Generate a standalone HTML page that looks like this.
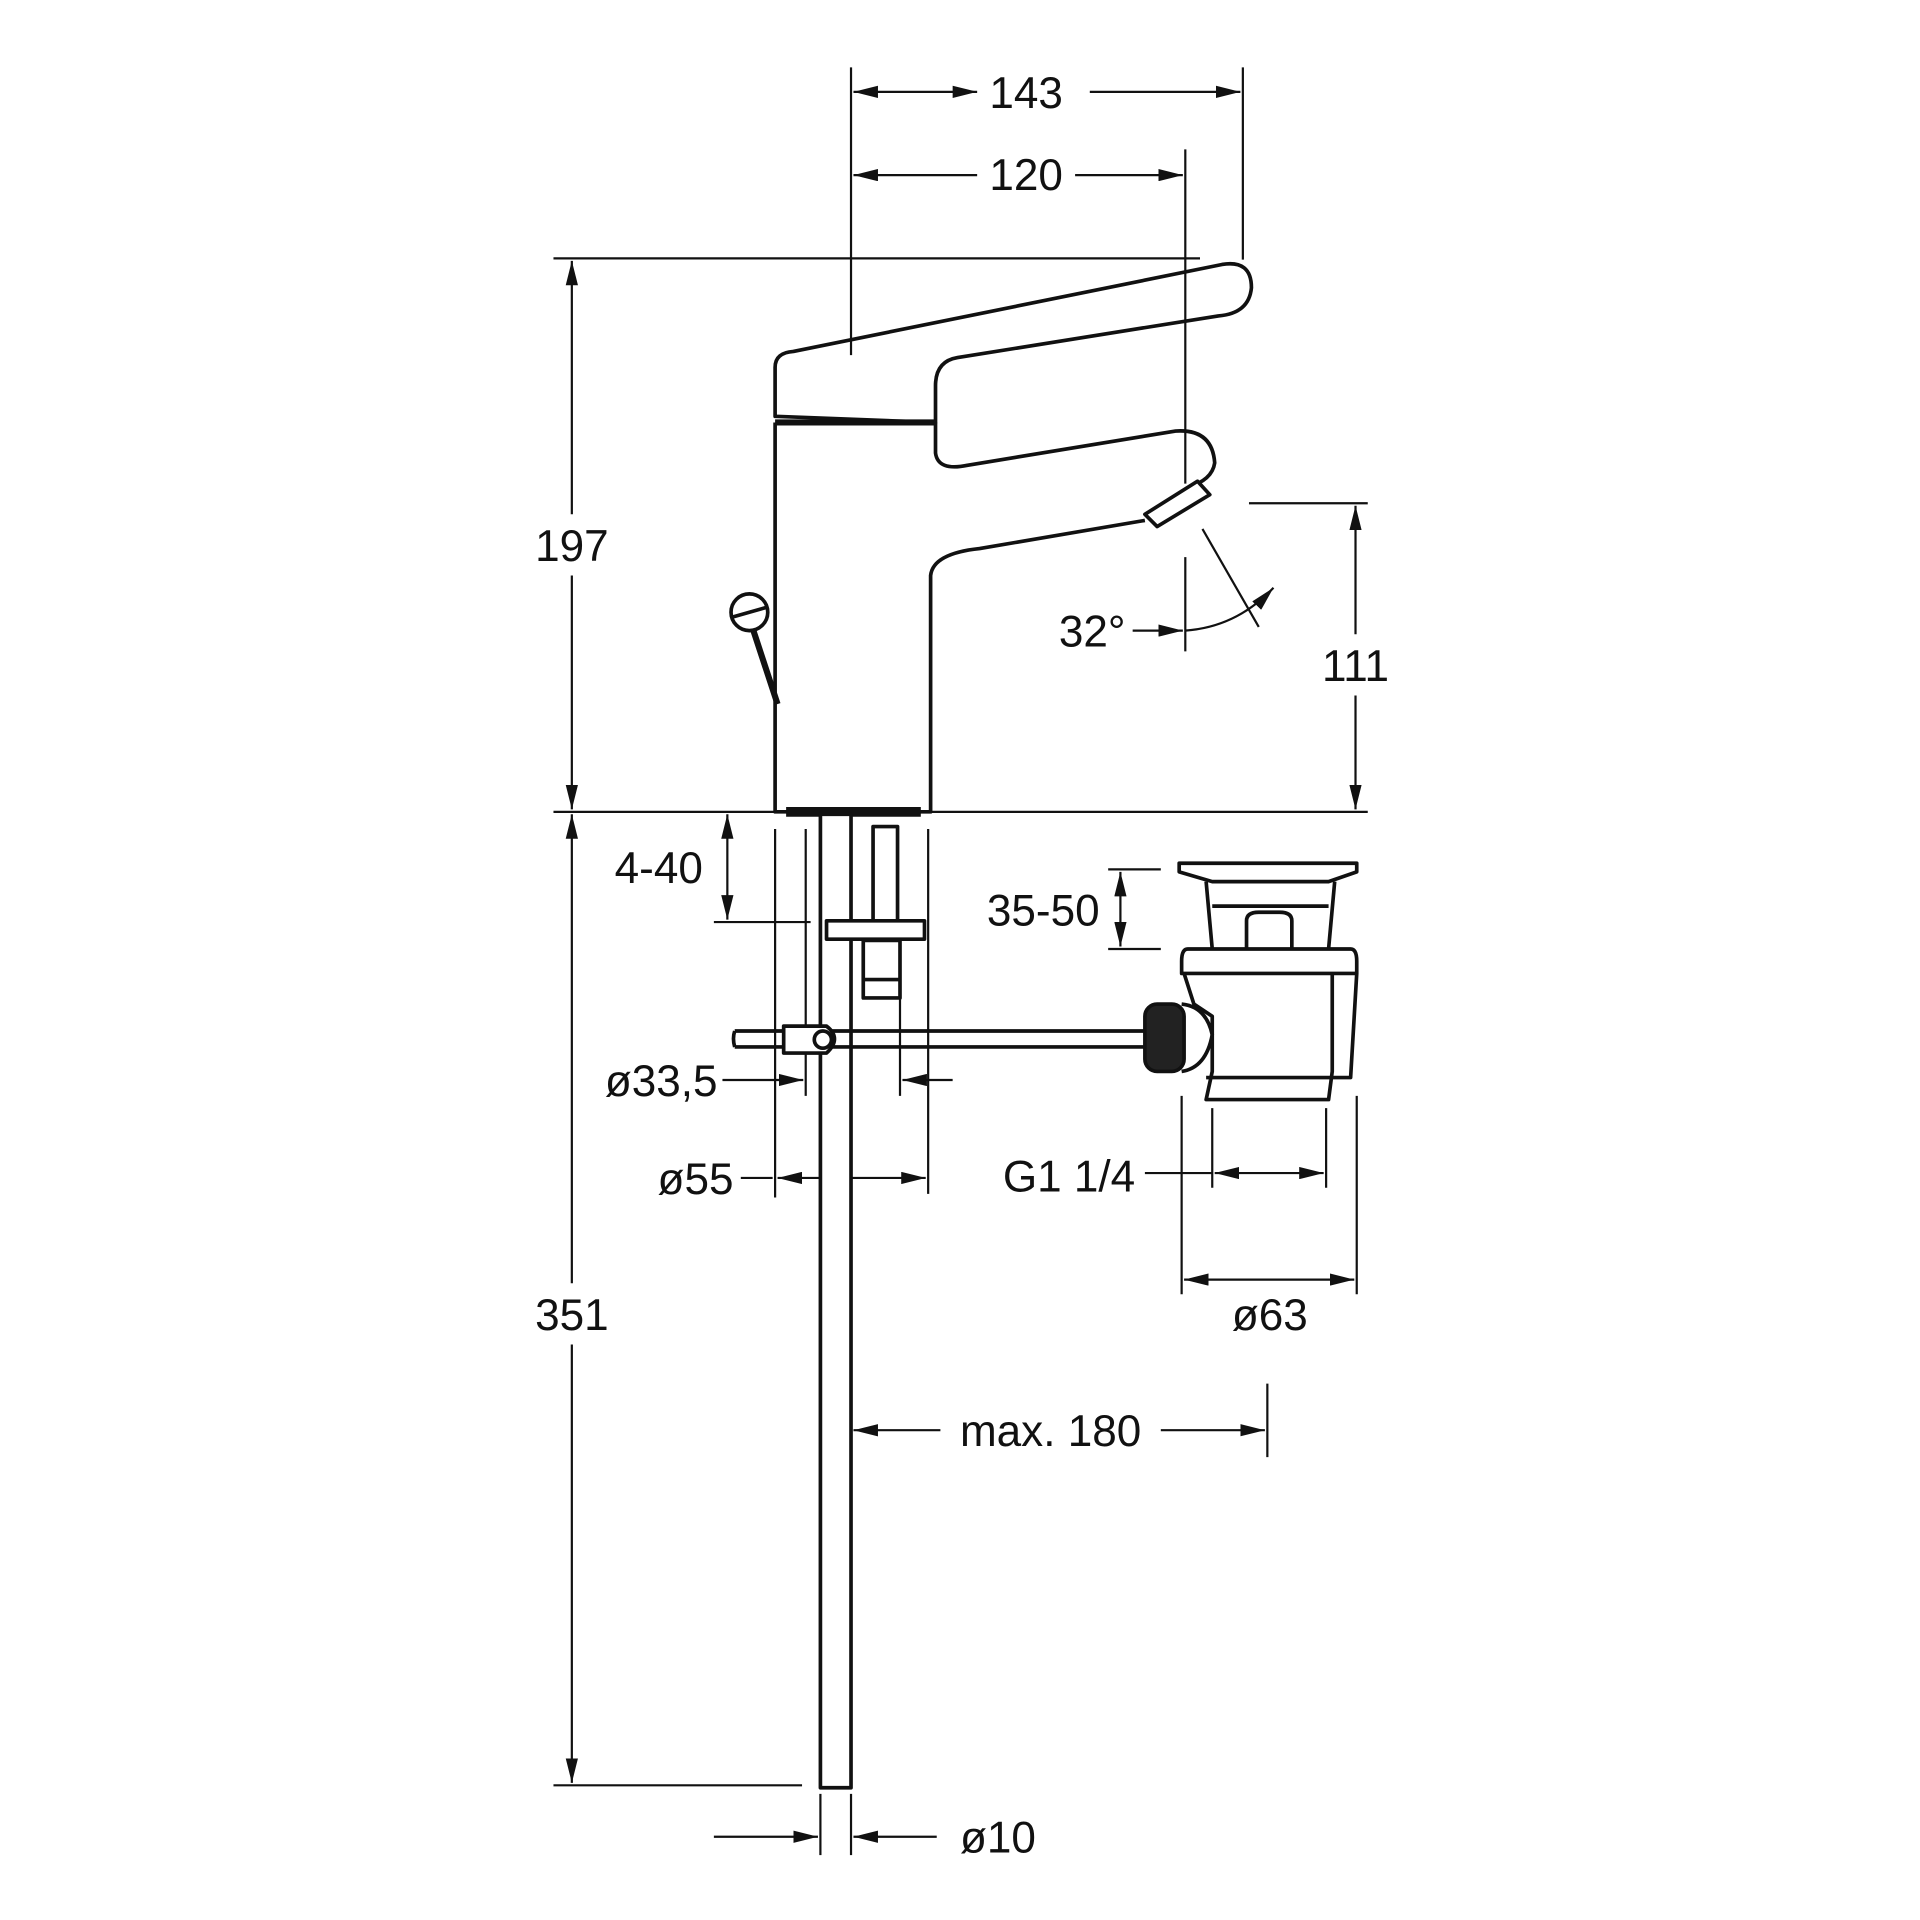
<!DOCTYPE html>
<html><head><meta charset="utf-8"><style>
html,body{margin:0;padding:0;background:#fff}
svg{display:block}
text{font-family:"Liberation Sans",sans-serif;font-size:36px;fill:#111}
</style></head><body>
<svg width="1920" height="1920" viewBox="0 0 1568 1568" xmlns="http://www.w3.org/2000/svg">
<defs>
<marker id="a" viewBox="0 0 20 10" refX="20" refY="5" markerWidth="20" markerHeight="10" markerUnits="userSpaceOnUse" orient="auto-start-reverse">
<path d="M0,0 L20,5 L0,10 z" fill="#111"/></marker>
</defs>
<g stroke="#111" stroke-width="1.8" fill="none">
<!-- 143 -->
<line x1="695" y1="55" x2="695" y2="290"/>
<line x1="1015" y1="55" x2="1015" y2="212"/>
<line x1="697" y1="75" x2="798" y2="75" marker-end="url(#a)" marker-start="url(#a)"/>
<line x1="890" y1="75" x2="1013" y2="75" marker-end="url(#a)"/>
<!-- 120 -->
<line x1="968" y1="122" x2="968" y2="395"/>
<line x1="697" y1="143" x2="798" y2="143" marker-start="url(#a)"/>
<line x1="878" y1="143" x2="966" y2="143" marker-end="url(#a)"/>
<!-- 197 / 351 -->
<line x1="452" y1="211" x2="980" y2="211"/>
<line x1="452" y1="663" x2="1117" y2="663"/>
<line x1="452" y1="1458" x2="655" y2="1458"/>
<line x1="467" y1="213" x2="467" y2="420" marker-start="url(#a)"/>
<line x1="467" y1="470" x2="467" y2="661" marker-end="url(#a)"/>
<line x1="467" y1="665" x2="467" y2="1048" marker-start="url(#a)"/>
<line x1="467" y1="1098" x2="467" y2="1456" marker-end="url(#a)"/>
<!-- 111 -->
<line x1="1020" y1="411" x2="1117" y2="411"/>
<line x1="1107" y1="413" x2="1107" y2="518" marker-start="url(#a)"/>
<line x1="1107" y1="568" x2="1107" y2="661" marker-end="url(#a)"/>
<!-- 32 deg -->
<line x1="968" y1="455" x2="968" y2="532"/>
<line x1="982" y1="432" x2="1028" y2="512"/>
<line x1="925" y1="515" x2="966" y2="515" marker-end="url(#a)"/>
<path d="M968,515 Q1010,512 1040,480" marker-end="url(#a)"/>
<!-- 4-40 -->
<line x1="583" y1="753" x2="662" y2="753"/>
<line x1="594" y1="665" x2="594" y2="751" marker-start="url(#a)" marker-end="url(#a)"/>
<!-- tailpiece verticals -->
<line x1="633" y1="677" x2="633" y2="978"/>
<line x1="758" y1="677" x2="758" y2="975"/>
<line x1="658" y1="677" x2="658" y2="895"/>
<line x1="735" y1="770" x2="735" y2="895"/>
<!-- ø33,5 -->
<line x1="590" y1="882" x2="656" y2="882" marker-end="url(#a)"/>
<line x1="778" y1="882" x2="737" y2="882" marker-end="url(#a)"/>
<!-- ø55 -->
<line x1="605" y1="962" x2="631" y2="962"/>
<line x1="635" y1="962" x2="756" y2="962" marker-start="url(#a)" marker-end="url(#a)"/>
<!-- 35-50 -->
<line x1="905" y1="710" x2="948" y2="710"/>
<line x1="905" y1="775" x2="948" y2="775"/>
<line x1="915" y1="712" x2="915" y2="773" marker-start="url(#a)" marker-end="url(#a)"/>
<!-- G1 1/4 -->
<line x1="990" y1="905" x2="990" y2="970"/>
<line x1="1083" y1="905" x2="1083" y2="970"/>
<line x1="935" y1="958" x2="990" y2="958"/>
<line x1="992" y1="958" x2="1081" y2="958" marker-start="url(#a)" marker-end="url(#a)"/>
<!-- ø63 -->
<line x1="965" y1="895" x2="965" y2="1057"/>
<line x1="1108" y1="895" x2="1108" y2="1057"/>
<line x1="967" y1="1045" x2="1106" y2="1045" marker-start="url(#a)" marker-end="url(#a)"/>
<!-- max 180 -->
<line x1="1035" y1="1130" x2="1035" y2="1190"/>
<line x1="697" y1="1168" x2="768" y2="1168" marker-start="url(#a)"/>
<line x1="948" y1="1168" x2="1033" y2="1168" marker-end="url(#a)"/>
<!-- ø10 -->
<line x1="670" y1="1465" x2="670" y2="1515"/>
<line x1="695" y1="1465" x2="695" y2="1515"/>
<line x1="583" y1="1500" x2="668" y2="1500" marker-end="url(#a)"/>
<line x1="765" y1="1500" x2="697" y2="1500" marker-end="url(#a)"/>
</g>
<g stroke="#111" stroke-width="3" fill="none" stroke-linejoin="round">
<!-- body -->
<path d="M633,345 L633,663 L760,663 L760,470 Q762,452 800,448 L935,425"/>
<path d="M633,340 L633,300 Q633,288 648,287 L998,216 Q1022,212 1022,235 Q1020,256 995,258 L782,292 Q764,295 764,315 L764,345 Z"/>
<line x1="633" y1="345" x2="764" y2="345" stroke-width="5"/>
<path d="M764,345 L764,370 Q766,385 790,380 L960,352 Q990,350 992,378 Q990,392 970,398"/>
<path d="M935,420 L978,393 L988,404 L945,430 Z" fill="#fff"/>
<line x1="642" y1="663" x2="752" y2="663" stroke-width="8"/>
<!-- pop-up knob -->
<line x1="612" y1="505" x2="635" y2="575" stroke-width="5"/>
<circle cx="612" cy="500" r="15" fill="#fff"/>
<line x1="598" y1="504" x2="626" y2="496"/>
<!-- pipe -->
<rect x="670" y="665" width="25" height="795" fill="#fff"/>
<!-- stud/nut -->
<rect x="713" y="675" width="20" height="80" fill="#fff"/>
<rect x="675" y="752" width="80" height="15" fill="#fff"/>
<rect x="705" y="768" width="30" height="47" fill="#fff"/>
<line x1="705" y1="800" x2="735" y2="800"/>
<!-- pop-up rod -->
<path d="M600,842 L935,842 M600,855 L935,855 M600,842 Q598,848 600,855"/>
<path d="M640,838 L675,838 Q688,848 675,860 L640,860 Z" fill="#fff"/>
<circle cx="672" cy="849" r="7"/>
<!-- drain -->
<path d="M963,705 L1108,705 L1108,712 L1085,720 L990,720 L963,712 Z" fill="#fff"/>
<path d="M985,720 L990,775 M1090,720 L1085,775"/>
<path d="M990,740 L1085,740"/>
<path d="M1018,775 L1018,752 Q1018,745 1028,745 L1045,745 Q1055,745 1055,752 L1055,775"/>
<path d="M970,775 L1103,775 Q1108,775 1108,785 L1108,795 L965,795 L965,785 Q965,775 970,775 Z"/>
<path d="M967,795 L975,820 L990,830 L990,875 L985,898 L1085,898 L1088,875 L1088,795"/>
<path d="M1108,795 L1103,880 L1088,880"/>
<path d="M985,880 L1088,880"/>
<rect x="935" y="820" width="32" height="55" rx="10" fill="#222"/>
<path d="M965,820 Q985,822 990,845 Q985,872 965,875"/>
</g>
<g>
<text x="838" y="88" text-anchor="middle">143</text>
<text x="838" y="155" text-anchor="middle">120</text>
<text x="467" y="458" text-anchor="middle">197</text>
<text x="467" y="1086" text-anchor="middle">351</text>
<text x="892" y="528" text-anchor="middle">32°</text>
<text x="1107" y="556" text-anchor="middle">111</text>
<text x="538" y="721" text-anchor="middle">4-40</text>
<text x="540" y="895" text-anchor="middle">ø33,5</text>
<text x="568" y="975" text-anchor="middle">ø55</text>
<text x="852" y="756" text-anchor="middle">35-50</text>
<text x="873" y="973" text-anchor="middle">G1 1/4</text>
<text x="1037" y="1086" text-anchor="middle">ø63</text>
<text x="858" y="1181" text-anchor="middle">max. 180</text>
<text x="815" y="1513" text-anchor="middle">ø10</text>
</g>
</svg>
</body></html>
